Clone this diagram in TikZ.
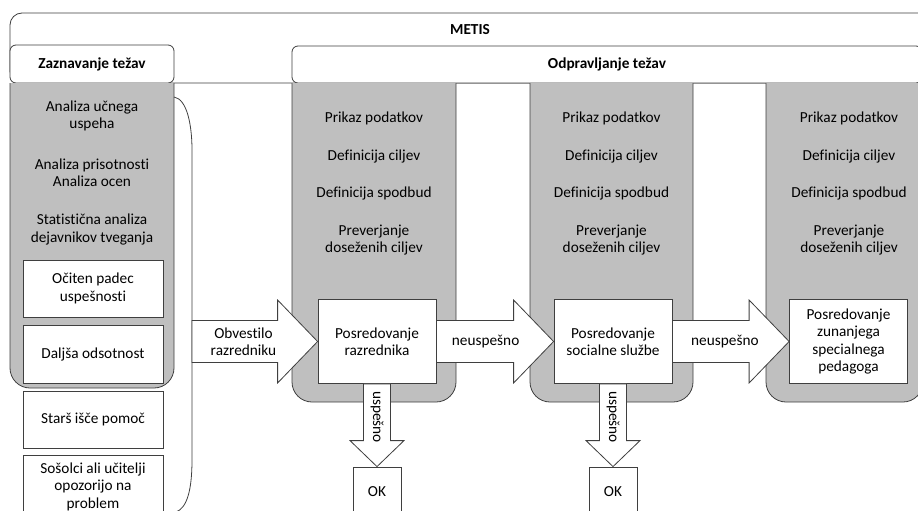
\documentclass[tikz,border=0pt]{standalone}
\usepackage{fontspec}
\setmainfont{Carlito}[Ligatures=NoCommon]
\usepackage{xcolor}
\usetikzlibrary{calc}
\definecolor{panelgray}{HTML}{BFBFBF}
\definecolor{edge}{HTML}{3F3F3F}

% block arrows between boxes
\tikzset{
  rarrow/.style={draw=edge, fill=white,
    to path={let \p1=(\tikztostart), \p2=(\tikztotarget) in
      (\x1,\y1+21pt) -- (\x2-40pt,\y1+21pt) -- (\x2-40pt,\y1+41.5pt) -- (\x2,\y2)
      -- (\x2-40pt,\y1-41.5pt) -- (\x2-40pt,\y1-21pt) -- (\x1,\y1-21pt) -- cycle}},
  darrow/.style={draw=edge, fill=white,
    to path={let \p1=(\tikztostart), \p2=(\tikztotarget) in
      (\x1-13.5pt,\y1) -- (\x1-13.5pt,\y2+26pt) -- (\x1-27pt,\y2+26pt) -- (\x2,\y2)
      -- (\x1+27pt,\y2+26pt) -- (\x1+13.5pt,\y2+26pt) -- (\x1+13.5pt,\y1) -- cycle}}
}

\begin{document}
\begin{tikzpicture}[x=1pt, y=-1pt, line width=0.8pt,
  every node/.style={font=\fontsize{15.3}{17.5}\selectfont, align=center, inner sep=0pt},
  title/.style={font=\fontsize{15.3}{17.5}\selectfont\bfseries},
  hbox/.style={draw=edge, fill=white, rounded corners=6pt},
  panel/.style={draw=edge, fill=panelgray, rounded corners=20pt},
  lbox/.style={draw=edge, fill=white, minimum width=140pt},
  pbox/.style={draw=edge, fill=white, minimum width=118pt, minimum height=84pt},
  okbox/.style={draw=edge, fill=white, minimum width=48pt, minimum height=50pt}]
\clip (0,0) rectangle (918,511);
% headers
\node[hbox, rounded corners=12pt, minimum width=920pt, minimum height=70pt] (metis) at (470,48) {};
\node[title] (metistitle) at (470,30) {METIS};
\node[hbox, title, minimum width=164pt, minimum height=38pt] (zaznavanje) at (92,64) {Zaznavanje težav};
\node[hbox, title, minimum width=630pt, minimum height=37pt] (odpravljanje) at (607,64.5) {Odpravljanje težav};
% gray panels
\foreach \l/\r/\b in {10/174/388, 292/456/402, 530/693/402, 766/923/402}
  \draw[panel] (\l,83) -- (\l,\b) -- (\r,\b) -- (\r,83);
% detection
\node (uspeh) at (92,116) {Analiza učnega\\uspeha};
\node (prisotnost) at (92,172.5) {Analiza prisotnosti\\Analiza ocen};
\node (tveganje) at (92,229.5) {Statistična analiza\\dejavnikov tveganja};
\node[lbox, minimum height=57pt] (padec) at (93,288.5) {Očiten padec\\uspešnosti};
\node[lbox, minimum height=58pt] (odsotnost) at (93,354) {Daljša odsotnost};
\node[lbox, minimum height=57pt] (stars) at (93,419.5) {Starš išče pomoč};
\node[lbox, minimum height=62pt] (sosolci) at (93,486.5) {Sošolci ali učitelji\\opozorijo na\\problem};
% bracket
\draw[edge] (174,97) .. controls (187,99) and (192,125) .. (192,150) -- (192,460)
  .. controls (192,490) and (187,508) .. (176,512);
\coordinate (brace) at (192,341.5);
% steps in each panel
\foreach \c/\n in {374/a, 611.5/b, 849/c} {
  \node (prikaz-\n) at (\c,118) {Prikaz podatkov};
  \node (cilji-\n) at (\c,156) {Definicija ciljev};
  \node (spodbude-\n) at (\c,193) {Definicija spodbud};
  \node (preverjanje-\n) at (\c,240) {Preverjanje\\doseženih ciljev};
}
\node[pbox] (razrednik) at (377,341.5) {Posredovanje\\razrednika};
\node[pbox] (sluzba) at (613,341.5) {Posredovanje\\socialne službe};
\node[pbox] (pedagog) at (848.5,341.5) {Posredovanje\\zunanjega\\specialnega\\pedagoga};
\node[okbox] (ok1) at (377,492) {OK};
\node[okbox] (ok2) at (613,492) {OK};
% arrows
\draw[rarrow] (brace) to (razrednik.west);
\draw[rarrow] (razrednik.east) to (sluzba.west);
\draw[rarrow] (sluzba.east) to (pedagog.west);
\draw[darrow] (razrednik.south) to (ok1.north);
\draw[darrow] (sluzba.south) to (ok2.north);
\node (obvestilo) at ($(brace)!0.41!(razrednik.west)$) {Obvestilo\\razredniku};
\node (neuspeh1) at ($(razrednik.east)!0.42!(sluzba.west)$) {neuspešno};
\node (neuspeh2) at ($(sluzba.east)!0.45!(pedagog.west)$) {neuspešno};
\node[rotate=-90] (uspeh1) at ($(razrednik.south)!0.4!(ok1.north)$) {uspešno};
\node[rotate=-90] (uspeh2) at ($(sluzba.south)!0.4!(ok2.north)$) {uspešno};
\end{tikzpicture}
\end{document}
